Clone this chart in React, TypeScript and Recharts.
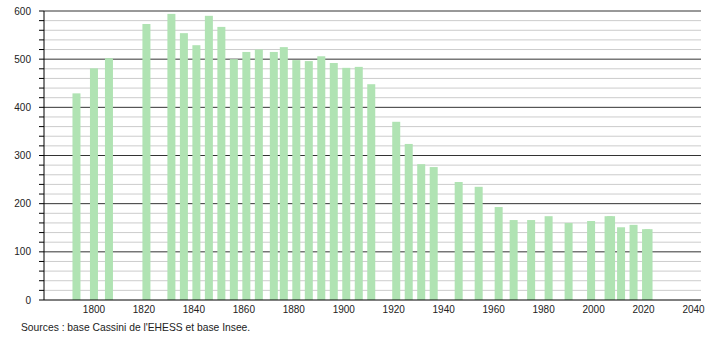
import { BarChart, Bar, XAxis, YAxis, CartesianGrid } from 'recharts'

const years = [
  1793, 1800, 1806, 1821, 1831, 1836, 1841, 1846, 1851, 1856, 1861, 1866, 1872,
  1876, 1881, 1886, 1891, 1896, 1901, 1906, 1911, 1921, 1926, 1931, 1936, 1946,
  1954, 1962, 1968, 1975, 1982, 1990, 1999, 2006, 2007, 2011, 2016, 2021, 2022,
]
const population = [
  429, 481, 502, 573, 594, 554, 529, 590, 567, 500, 515, 520, 515,
  525, 498, 496, 506, 492, 482, 484, 448, 370, 324, 282, 276, 245,
  235, 193, 166, 166, 174, 160, 164, 174, 174, 151, 156, 147, 147,
]
const xTicks = [1800, 1820, 1840, 1860, 1880, 1900, 1920, 1940, 1960, 1980, 2000, 2020, 2040]
const yTicks = [0, 20, 40, 60, 80, 100, 120, 140, 160, 180, 200, 220, 240, 260, 280, 300, 320, 340, 360, 380, 400, 420, 440, 460, 480, 500, 520, 540, 560, 580, 600]
const majorLines = [100, 200, 300, 400, 500, 600]
const minorLines = yTicks.filter((v) => v % 100 !== 0)
const source = "Sources : base Cassini de l'EHESS et base Insee."

const data = years.map((year, i) => ({ year, value: population[i] }))

const font = '"Liberation Sans", Arial, sans-serif'
const BAR_W = 8

// bars on a numeric axis get squeezed by the 2021/2022 gap, so widen them around their centre
const WideBar = (props: any) => {
  const { x, y, width, height, fill } = props
  const cx = x + width / 2
  return <rect x={cx - BAR_W / 2} y={y} width={BAR_W} height={height} fill={fill} />
}

const App = () => {
  return (
    <div style={{ position: 'absolute', left: 0, top: 0, width: 710, height: 340, background: '#fff', fontFamily: font }}>
      <BarChart
        width={710}
        height={340}
        data={data}
        margin={{ top: 11, right: 9, left: 0, bottom: 0 }}
      >
        <CartesianGrid
          vertical={false}
          horizontalValues={minorLines}
          stroke="#cccccc"
          strokeWidth={1}
        />
        <CartesianGrid
          vertical={false}
          horizontalValues={majorLines}
          stroke="#333333"
          strokeWidth={1}
        />
        <XAxis
          dataKey="year"
          type="number"
          domain={[1780, 2043]}
          ticks={xTicks}
          allowDataOverflow
          height={40}
          tickLine={false}
          tickSize={0}
          tickMargin={6}
          axisLine={{ stroke: '#000', strokeWidth: 1 }}
          tick={{ fill: '#222', fontSize: 10, fontFamily: font }}
        />
        <YAxis
          type="number"
          domain={[0, 600]}
          ticks={yTicks}
          interval={0}
          width={44}
          tickSize={5}
          tickMargin={8}
          tickLine={{ stroke: '#000' }}
          axisLine={{ stroke: '#000', strokeWidth: 1 }}
          tickFormatter={(v: number) => (v % 100 === 0 ? String(v) : '')}
          tick={{ fill: '#222', fontSize: 10, fontFamily: font }}
        />
        <Bar dataKey="value" fill="#b0e3b3" shape={WideBar} isAnimationActive={false} />
      </BarChart>
      <div style={{ position: 'absolute', left: 21, top: 322, fontSize: 10.3, color: '#222', whiteSpace: 'nowrap' }}>
        {source}
      </div>
    </div>
  )
}

export default App
